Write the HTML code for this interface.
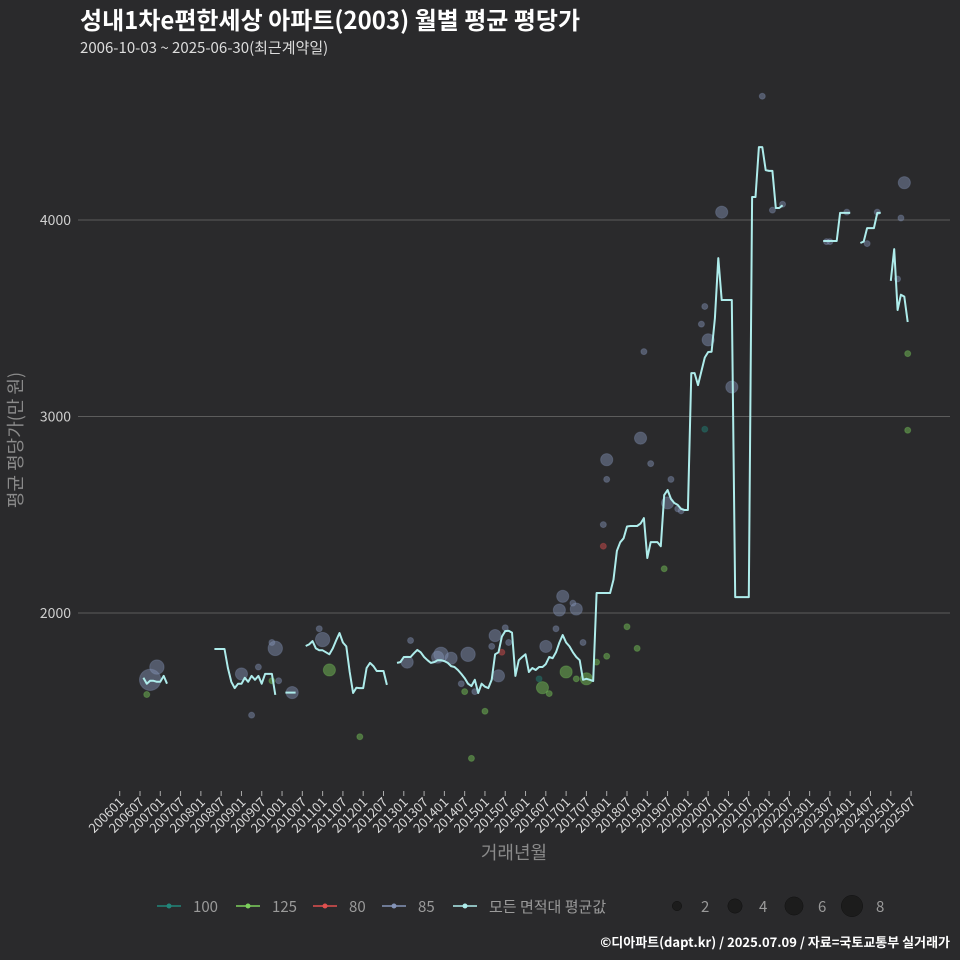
<!DOCTYPE html>
<html><head><meta charset="utf-8">
<style>
html,body{margin:0;padding:0;background:#2a2a2c;}
svg{display:block;font-family:"Noto Sans CJK KR","Liberation Sans",sans-serif;}
</style></head>
<body>
<svg id="chart" width="960" height="960" viewBox="0 0 960 960">
<rect x="0" y="0" width="960" height="960" fill="#2a2a2c"/>
<text x="80" y="29" fill="#ffffff" font-size="24" font-weight="bold">성내1차e편한세상 아파트(2003) 월별 평균 평당가</text>
<text x="80" y="53" fill="#dddddd" font-size="15">2006-10-03 ~ 2025-06-30(최근계약일)</text>
<g id="grid"></g>
<g id="yticks"></g>
<g id="xticks"></g>
<g id="points"></g>
<g id="lines"></g>
<text x="0" y="0" transform="translate(22,440) rotate(-90)" text-anchor="middle" fill="#8a8a8a" font-size="18">평균 평당가(만 원)</text>
<text x="514" y="859" text-anchor="middle" fill="#8a8a8a" font-size="18">거래년월</text>
<g id="legend"></g>
<text x="950" y="947" text-anchor="end" fill="#ffffff" font-size="13" font-weight="bold">©디아파트(dapt.kr) / 2025.07.09 / 자료=국토교통부 실거래가</text>
</svg>
<script>
// ---- data ----
const yTicks = [2000, 3000, 4000];
const xTickLabels = [];
for (let y = 2006; y <= 2025; y++) { xTickLabels.push(y + "01"); xTickLabels.push(y + "07"); }
// monthly average line: month index from 2006-01, value (null breaks line)
const lineMonths = [7,8,9,10,11,12,13,14,null,
28,29,30,31,32,33,34,35,36,37,38,39,40,41,42,43,44,45,46,null,
49,50,51,52,null,
55,56,57,58,59,60,61,62,63,64,65,66,67,68,69,70,71,72,73,74,75,76,77,78,79,null,
82,83,84,85,86,87,88,89,90,91,92,93,94,95,96,97,98,99,100,101,102,103,104,105,106,107,108,109,110,111,112,113,114,115,116,117,118,119,120,121,122,123,124,125,126,127,128,129,130,131,132,133,134,135,136,137,138,139,140,141,142,143,144,145,146,147,148,149,150,151,152,153,154,155,156,157,158,159,160,161,162,163,164,165,166,167,168,169,170,171,172,173,174,175,176,177,178,179,180,181,182,183,184,185,186,187,188,189,190,191,192,193,194,195,196,null,
208,209,210,211,212,213,214,215,216,null,
219,220,221,222,223,224,225,null,
228,229,230,231,232,233];
const lineValues = [1670,1640,1655,1655,1650,1650,1680,1640,null,
1817,1817,1817,1817,1720,1650,1618,1640,1640,1670,1650,1680,1660,1680,1640,1690,1690,1690,1583,null,
1595,1595,1595,1595,null,
1832,1840,1857,1820,1810,1810,1800,1790,1820,1860,1898,1850,1830,1700,1593,1620,1618,1618,1720,1746,1730,1705,1705,1705,1634,null,
1746,1750,1776,1776,1776,1795,1812,1800,1776,1760,1746,1750,1760,1760,1755,1746,1730,1725,1710,1690,1668,1640,1628,1660,1593,1640,1625,1618,1660,1790,1800,1880,1908,1910,1900,1680,1760,1776,1790,1700,1720,1710,1725,1725,1740,1776,1770,1800,1850,1888,1850,1830,1800,1776,1760,1660,1665,1660,1654,2102,2102,2102,2102,2102,2170,2316,2360,2380,2440,2443,2443,2443,2455,2483,2280,2361,2361,2361,2340,2600,2626,2580,2560,2550,2530,2524,2524,3221,3221,3160,3230,3300,3328,3330,3500,3806,3593,3593,3593,3593,2081,2081,2081,2081,2081,4117,4117,4371,4371,4254,4250,4250,4061,4061,4075,null,
3893,3893,3893,3893,3893,4036,4036,4036,4036,null,
3883,3890,3959,3959,3959,4036,4036,null,
3690,3852,3542,3620,3610,3481];
// individual trades: month index, price, area category, count
const ptMonths = [9,11,8,41,47,45,46,39,36,51,60,59,62,71,45,86,85,94,95,98,103,101,102,115,105,108,110,104,112,114,113,111,125,127,124,126,130,135,131,134,137,129,132,138,135,141,144,143,143,144,144,150,153,157,154,163,162,165,161,166,155,172,173,174,173,178,181,196,190,193,209,210,215,221,224,231,232,230,233,233];
const ptValues = [1660,1725,1585,1725,1655,1850,1820,1480,1690,1595,1865,1920,1710,1370,1655,1860,1750,1775,1790,1770,1790,1640,1600,1850,1600,1500,1830,1260,1680,1925,1800,1885,1620,1590,1665,1830,2015,2020,2085,2050,1850,1920,1700,1665,1665,1750,1780,2450,2340,2680,2780,1930,1820,2760,2890,2680,2560,2530,2225,2520,3330,3470,3560,3390,2935,4040,3150,4080,4630,4050,3890,3890,4040,3880,4040,4010,4190,3700,3320,2930];
const ptCats = ["85","85","125","85","85","85","85","85","85","85","85","85","125","125","125","85","85","85","85","85","85","85","125","85","85","125","85","125","85","85","80","85","125","125","100","85","85","85","85","85","85","85","125","125","125","125","125","85","80","85","85","125","125","85","85","85","85","85","125","85","85","85","85","85","100","85","85","85","85","85","85","85","85","85","85","85","85","85","125","125"];
const ptCounts = [8,4,1,1,1,1,4,1,3,3,4,1,3,1,1,1,3,3,4,3,4,1,1,1,1,1,1,1,3,1,1,3,3,1,1,3,3,3,3,1,1,1,3,3,1,1,1,1,1,1,3,1,1,1,3,1,3,1,1,1,1,1,1,3,1,3,3,1,1,1,1,1,1,1,1,1,3,1,1,1];
// ---- scales ----
const NS = "http://www.w3.org/2000/svg";
function xScale(m) { return 119.7 + 3.382 * m; }
function yScale(v) { return 613 - (v - 2000) * 0.1965; }
function rScale(c) { return -1.2 + Math.sqrt(c) * 4.2; }
const catColor = { "100": "#21867a", "125": "#7ccf5c", "80": "#e0504f", "85": "#8494b8" };
function mk(tag, attrs, parent) { const e = document.createElementNS(NS, tag); for (const k in attrs) e.setAttribute(k, attrs[k]); parent.appendChild(e); return e; }
const grid = document.getElementById('grid'), yt = document.getElementById('yticks'), xt = document.getElementById('xticks');
yTicks.forEach(v => {
  const l = mk('line', { x1: 78, x2: 950, y1: yScale(v), y2: yScale(v), stroke: '#5c5c5c', 'stroke-width': 1 }, grid);
  
  
  const t = mk('text', { x: 71, y: yScale(v) + 5, 'text-anchor': 'end', fill: '#cfcfcf', 'font-size': 14 }, yt);
  t.textContent = v;
  
  
});
xTickLabels.forEach((lab, i) => {
  const x = xScale(i * 6);
  const tk = mk('line', { x1: x, x2: x, y1: 791, y2: 796, stroke: '#aaaaaa', 'stroke-width': 1 }, xt);
  
  
  const t = mk('text', { x: 0, y: 0, transform: 'translate(' + (x + 5) + ',803) rotate(-45)', 'text-anchor': 'end', fill: '#d8d8d8', 'font-size': 13 }, xt);
  t.textContent = lab;
  
  
});
const pg = document.getElementById('points');
ptMonths.forEach((m, i) => {
  const c = mk('circle', { cx: xScale(m), cy: yScale(ptValues[i]), r: rScale(ptCounts[i]), fill: catColor[ptCats[i]], 'fill-opacity': 0.45, stroke: catColor[ptCats[i]], 'stroke-opacity': 0.3 }, pg);
  
  
});
const lg = document.getElementById('lines');
let seg = [];
function flush() {
  if (seg.length > 1) {
    const p = mk('polyline', { points: seg.join(' '), fill: 'none', stroke: '#aeeceb', 'stroke-width': 2, 'stroke-linejoin': 'round' }, lg);
    
    
  }
  seg = [];
}
lineMonths.forEach((m, i) => {
  if (m === null || lineValues[i] === null) { flush(); return; }
  seg.push(xScale(m).toFixed(1) + ',' + yScale(lineValues[i]).toFixed(1));
});
flush();
// legend
const leg = document.getElementById('legend');
const cats = [["100", "#21867a"], ["125", "#7ccf5c"], ["80", "#e0504f"], ["85", "#8494b8"], ["모든 면적대 평균값", "#aeeceb"]];
const lx = [157, 236, 313, 382, 453];
cats.forEach((c, i) => {
  const g = mk('g', {}, leg);
  
  
  mk('line', { x1: lx[i], x2: lx[i] + 24, y1: 906, y2: 906, stroke: c[1], 'stroke-width': 1.5 }, g);
  mk('circle', { cx: lx[i] + 12, cy: 906, r: 2.5, fill: c[1] }, g);
  const t = mk('text', { x: lx[i] + 36, y: 912, fill: '#9a9a9a', 'font-size': 15 }, g);
  t.textContent = c[0];
});
const sizes = [2, 4, 6, 8], sx = [677, 735, 794, 852];
sizes.forEach((s, i) => {
  const g = mk('g', {}, leg);
  
  
  mk('circle', { cx: sx[i], cy: 906, r: rScale(s), fill: '#1c1c1c', stroke: '#111', 'stroke-width': 0.5 }, g);
  const t = mk('text', { x: sx[i] + 24, y: 912, fill: '#9a9a9a', 'font-size': 15 }, g);
  t.textContent = s;
});
</script>
</body></html>
